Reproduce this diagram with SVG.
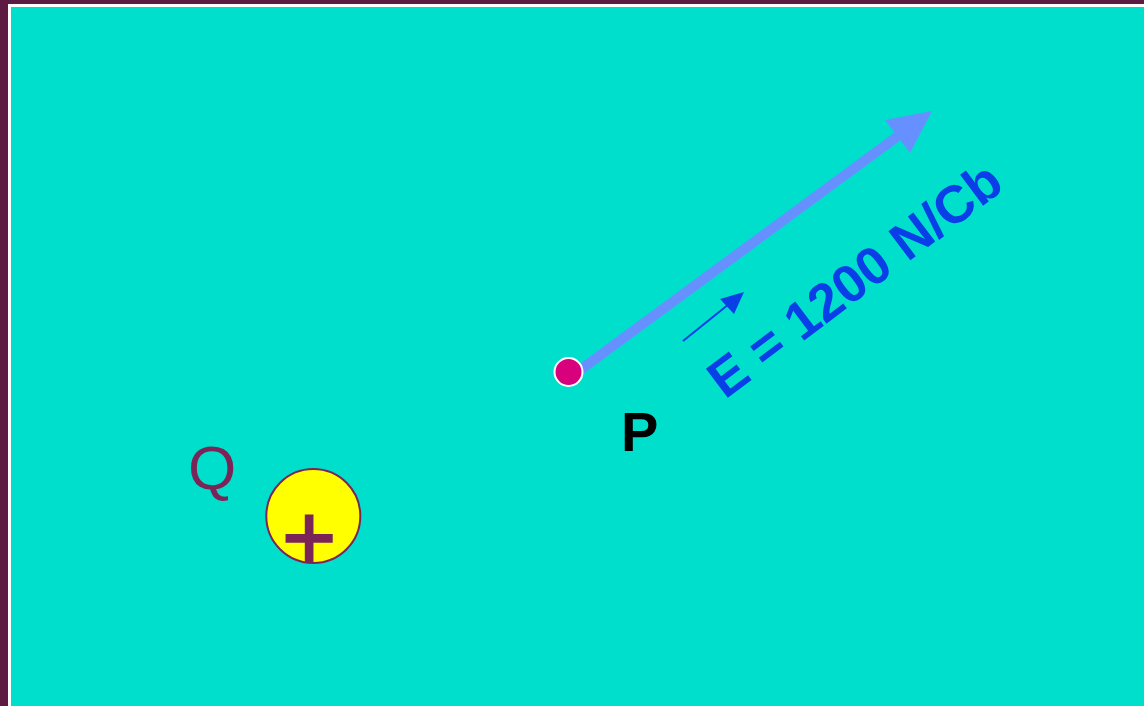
<svg xmlns="http://www.w3.org/2000/svg" width="1144" height="706" viewBox="0 0 1144 706">
<style>
.lbl{font-family:"Liberation Sans",Arial,sans-serif}
.q{fill:#7a2458}
.efield{fill:#0a3fe8;font-weight:bold}
</style>
<rect x="0" y="0" width="1144" height="706" fill="#5e1b42"/>
<rect x="8" y="4" width="1136" height="702" fill="#ffffff"/>
<rect x="11" y="7" width="1133" height="699" fill="#00dfcc"/>
<g id="connectors">
<line x1="572" y1="376" x2="900" y2="134.5" stroke="#6690ff" stroke-width="10"/>
<polygon points="932,111 885,120 910,153" fill="#6690ff"/>
<line x1="683" y1="341" x2="729" y2="304" stroke="#0a3fe8" stroke-width="2"/>
<polygon points="744,292 720,299 734,314" fill="#0a3fe8"/>
</g>
<g id="node-P">
<circle cx="568.5" cy="372" r="14" fill="#d9007e" stroke="#ffffff" stroke-width="2"/>
<text class="lbl" x="621" y="451" font-size="56" font-weight="bold" fill="#000000">P</text>
</g>
<g id="label-E">
<text class="lbl efield" transform="translate(725,400) rotate(-37)" font-size="53">E = 1200 N/Cb</text>
</g>
<g id="node-Q">
<text class="lbl q" x="188" y="489" font-size="62">Q</text>
<circle cx="313.3" cy="516" r="47" fill="#ffff00" stroke="#7a2458" stroke-width="2"/>
<text class="lbl q" x="282" y="569" font-size="93" stroke="#7a2458" stroke-width="2">+</text>
</g>
</svg>
